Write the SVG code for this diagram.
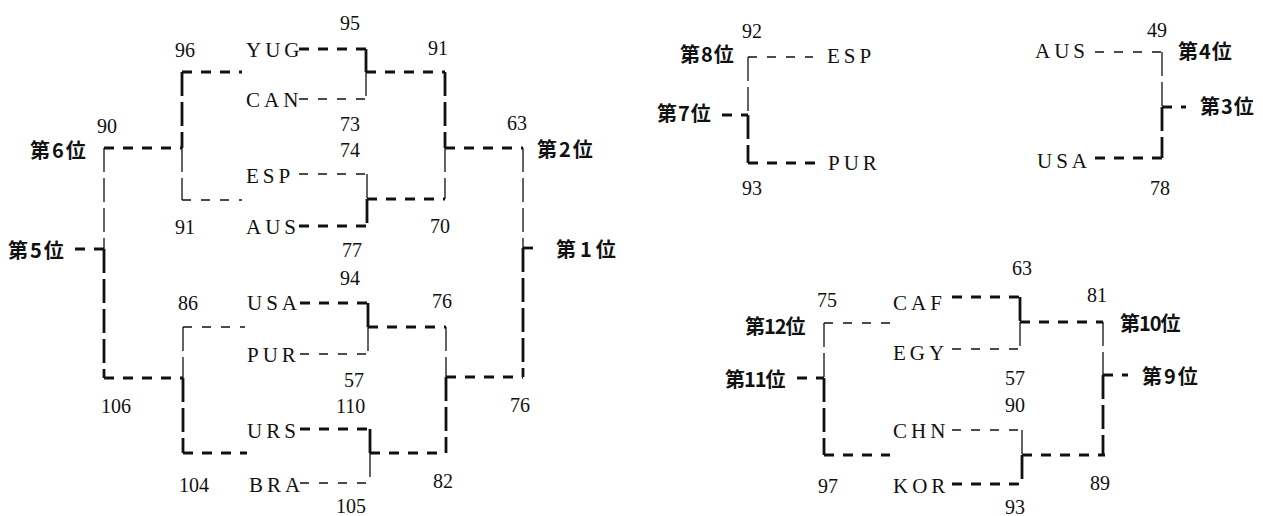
<svg xmlns="http://www.w3.org/2000/svg" width="1263" height="516" viewBox="0 0 1263 516">
<style>
.ht{fill:none;stroke:#111;stroke-width:2.8;stroke-dasharray:10 9}
.hn{fill:none;stroke:#111;stroke-width:1.3;stroke-dasharray:9 10}
.vt{fill:none;stroke:#111;stroke-width:2.8;stroke-dasharray:24 6}
.vn{fill:none;stroke:#111;stroke-width:1.3;stroke-dasharray:24 6}
.team{font-family:"Liberation Serif",serif;font-size:21px;letter-spacing:4px;fill:#111}
.num{font-family:"Liberation Serif",serif;font-size:20px;fill:#111}
.rank{font-family:"Noto Sans CJK JP",sans-serif;font-size:20px;font-weight:700;fill:#111}
</style>
<rect width="1263" height="516" fill="#fff"/>
<g id="connectors">
<!-- left main bracket, upper -->
<path class="ht" d="M299 49H366"/>
<path class="hn" d="M299 99H366"/>
<path class="vt" d="M366 49V72"/>
<path class="vn" d="M366 72V99"/>
<path class="ht" d="M366 72H445"/>
<path class="vt" d="M445 72V148"/>
<path class="vn" d="M445 148V199"/>
<path class="hn" d="M299 174H367"/>
<path class="ht" d="M299 226H367"/>
<path class="vn" d="M367 174V199"/>
<path class="vt" d="M367 199V226"/>
<path class="ht" d="M367 199H445"/>
<path class="ht" d="M445 148H523"/>
<path class="vn" d="M523 148V248"/>
<path class="vt" d="M523 248V377"/>
<path class="ht" d="M523 248H538"/>
<path class="ht" d="M446 377H523"/>
<!-- left main bracket, lower -->
<path class="ht" d="M300 303H368"/>
<path class="hn" d="M300 354H368"/>
<path class="vt" d="M368 303V327"/>
<path class="vn" d="M368 327V354"/>
<path class="ht" d="M368 327H446"/>
<path class="vn" d="M446 327V377"/>
<path class="vt" d="M446 377V453"/>
<path class="ht" d="M300 429H370"/>
<path class="hn" d="M300 483H370"/>
<path class="vt" d="M370 429V453"/>
<path class="vn" d="M370 453V483"/>
<path class="ht" d="M370 453H446"/>
<!-- left side bracket -->
<path class="ht" d="M182 72H242"/>
<path class="vt" d="M182 72V148"/>
<path class="vn" d="M182 148V200"/>
<path class="hn" d="M182 200H242"/>
<path class="ht" d="M104 148H182"/>
<path class="vn" d="M104 148V249"/>
<path class="vt" d="M104 249V378"/>
<path class="ht" d="M75 249H104"/>
<path class="ht" d="M104 378H183"/>
<path class="hn" d="M183 327H245"/>
<path class="vn" d="M183 327V378"/>
<path class="vt" d="M183 378V453"/>
<path class="ht" d="M183 453H247"/>
<!-- 7th/8th -->
<path class="hn" d="M748 57H813"/>
<path class="ht" d="M748 163H815"/>
<path class="vn" d="M748 57V115"/>
<path class="vt" d="M748 115V163"/>
<path class="ht" d="M722 115H748"/>
<!-- 3rd/4th -->
<path class="hn" d="M1095 52H1162"/>
<path class="ht" d="M1095 158H1162"/>
<path class="vn" d="M1162 52V107"/>
<path class="vt" d="M1162 107V158"/>
<path class="ht" d="M1162 107H1186"/>
<!-- 9th-12th -->
<path class="ht" d="M952 297H1020"/>
<path class="hn" d="M952 349H1020"/>
<path class="vt" d="M1020 297V322"/>
<path class="vn" d="M1020 322V349"/>
<path class="ht" d="M1020 322H1103"/>
<path class="vn" d="M1103 322V375"/>
<path class="vt" d="M1103 375V455"/>
<path class="ht" d="M1103 375H1128"/>
<path class="hn" d="M952 430H1022"/>
<path class="ht" d="M952 484H1022"/>
<path class="vn" d="M1022 430V455"/>
<path class="vt" d="M1022 455V484"/>
<path class="ht" d="M1022 455H1105"/>
<path class="hn" d="M824 323H890"/>
<path class="vn" d="M824 323V378"/>
<path class="vt" d="M824 378V455"/>
<path class="ht" d="M824 455H890"/>
<path class="ht" d="M797 378H824"/>
</g>
<!-- left main bracket labels -->
<g id="YUG"><text class="team" x="246" y="57">YUG</text></g>
<g id="CAN"><text class="team" x="246" y="107">CAN</text></g>
<g id="ESP"><text class="team" x="246" y="183">ESP</text></g>
<g id="AUS"><text class="team" x="246" y="234">AUS</text></g>
<g id="USA"><text class="team" x="247" y="310">USA</text></g>
<g id="PUR"><text class="team" x="247" y="362">PUR</text></g>
<g id="URS"><text class="team" x="247" y="438">URS</text></g>
<g id="BRA"><text class="team" x="249" y="492">BRA</text></g>
<g id="scores-left">
<text class="num" x="340" y="30">95</text>
<text class="num" x="175" y="57">96</text>
<text class="num" x="428" y="55">91</text>
<text class="num" x="97" y="133">90</text>
<text class="num" x="340" y="131">73</text>
<text class="num" x="340" y="157">74</text>
<text class="num" x="507" y="130">63</text>
<text class="num" x="175" y="234">91</text>
<text class="num" x="430" y="233">70</text>
<text class="num" x="342" y="257">77</text>
<text class="num" x="340" y="285">94</text>
<text class="num" x="178" y="310">86</text>
<text class="num" x="432" y="308">76</text>
<text class="num" x="344" y="387">57</text>
<text class="num" x="101" y="413">106</text>
<text class="num" x="336" y="413">110</text>
<text class="num" x="510" y="412">76</text>
<text class="num" x="179" y="492">104</text>
<text class="num" x="433" y="488">82</text>
<text class="num" x="336" y="513">105</text>
</g>
<g id="rank6"><text class="rank" x="30" y="158" letter-spacing="2">第6位</text></g>
<g id="rank5"><text class="rank" x="8" y="258" letter-spacing="2">第5位</text></g>
<g id="rank2"><text class="rank" x="537" y="157" letter-spacing="2">第2位</text></g>
<g id="rank1"><text class="rank" x="556" y="257" letter-spacing="4">第1位</text></g>
<!-- 7th/8th -->
<g id="ESP2"><text class="team" x="827" y="63" letter-spacing="6">ESP</text></g>
<g id="PUR2"><text class="team" x="828" y="170" letter-spacing="6">PUR</text></g>
<g id="rank8"><text class="rank" x="680" y="62" letter-spacing="1">第8位</text></g>
<g id="rank7"><text class="rank" x="657" y="121" letter-spacing="1">第7位</text></g>
<g id="scores-78">
<text class="num" x="742" y="38">92</text>
<text class="num" x="742" y="195">93</text>
</g>
<!-- 3rd/4th -->
<g id="AUS2"><text class="team" x="1035" y="58" letter-spacing="5">AUS</text></g>
<g id="USA2"><text class="team" x="1037" y="168" letter-spacing="5">USA</text></g>
<g id="rank4"><text class="rank" x="1178" y="59" letter-spacing="1">第4位</text></g>
<g id="rank3"><text class="rank" x="1200" y="114" letter-spacing="1">第3位</text></g>
<g id="scores-34">
<text class="num" x="1147" y="37">49</text>
<text class="num" x="1150" y="195">78</text>
</g>
<!-- 9th-12th -->
<g id="CAF"><text class="team" x="893" y="310" letter-spacing="5">CAF</text></g>
<g id="EGY"><text class="team" x="893" y="360" letter-spacing="5">EGY</text></g>
<g id="CHN"><text class="team" x="893" y="438" letter-spacing="5">CHN</text></g>
<g id="KOR"><text class="team" x="893" y="493" letter-spacing="5">KOR</text></g>
<g id="rank12"><text class="rank" x="745" y="334" letter-spacing="-1">第12位</text></g>
<g id="rank11"><text class="rank" x="725" y="387" letter-spacing="-1">第11位</text></g>
<g id="rank10"><text class="rank" x="1120" y="331" letter-spacing="-1">第10位</text></g>
<g id="rank9"><text class="rank" x="1142" y="384" letter-spacing="2">第9位</text></g>
<g id="scores-right">
<text class="num" x="1012" y="275">63</text>
<text class="num" x="817" y="307">75</text>
<text class="num" x="1087" y="302">81</text>
<text class="num" x="1005" y="385">57</text>
<text class="num" x="1005" y="412">90</text>
<text class="num" x="818" y="493">97</text>
<text class="num" x="1090" y="490">89</text>
<text class="num" x="1005" y="514">93</text>
</g>
</svg>
